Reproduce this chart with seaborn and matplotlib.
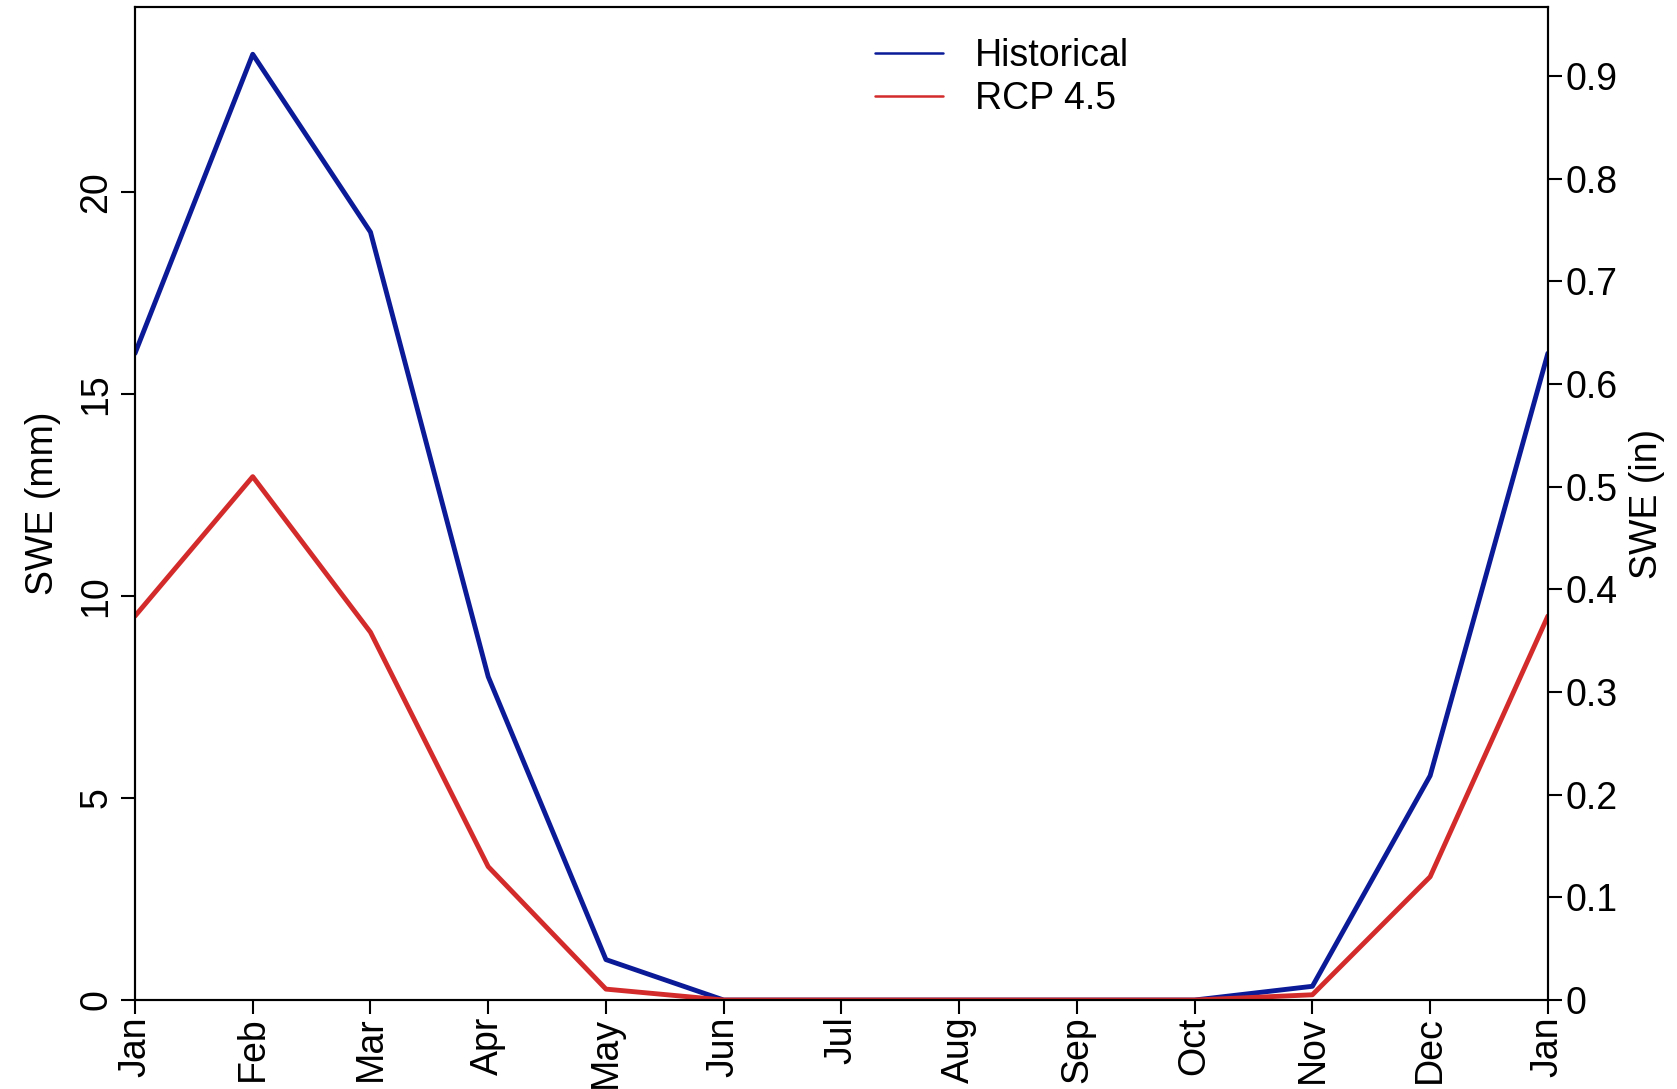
import pandas as pd
import matplotlib
matplotlib.use("Agg")
import matplotlib.pyplot as plt
import seaborn as sns

# monthly SWE climatology (mm), Jan repeated at the end
months = ["Jan", "Feb", "Mar", "Apr", "May", "Jun", "Jul",
          "Aug", "Sep", "Oct", "Nov", "Dec", "Jan"]
historical = [16.0, 23.4, 19.0, 8.0, 1.0, 0.0, 0.0, 0.0, 0.0, 0.0, 0.34, 5.55, 16.0]
rcp45 = [9.5, 12.95, 9.1, 3.3, 0.27, 0.0, 0.0, 0.0, 0.0, 0.0, 0.13, 3.05, 9.5]
series_names = ["Historical", "RCP 4.5"]
series_colors = ["#0b1a97", "#d32b2b"]

mm_ticks = [0, 5, 10, 15, 20]
in_ticks = [0.0, 0.1, 0.2, 0.3, 0.4, 0.5, 0.6, 0.7, 0.8, 0.9]
in_labels = ["0", "0.1", "0.2", "0.3", "0.4", "0.5", "0.6", "0.7", "0.8", "0.9"]

# long table for seaborn
df = pd.DataFrame({
    "pos": list(range(len(months))) * 2,
    "swe": historical + rcp45,
    "scenario": [series_names[0]] * len(months) + [series_names[1]] * len(months),
})

sns.set_style("ticks")
plt.rcParams['font.family'] = ['Liberation Sans', 'DejaVu Sans']
plt.rcParams['text.color'] = 'black'
plt.rcParams['axes.labelcolor'] = 'black'
plt.rcParams['xtick.color'] = 'black'
plt.rcParams['ytick.color'] = 'black'
plt.rcParams['axes.edgecolor'] = 'black'
plt.rcParams['axes.linewidth'] = 1.5

fs = 27

fig = plt.figure(figsize=(16.77, 10.89), dpi=100)
ax = fig.add_axes([0.0805, 0.0817, 0.8425, 0.9119])

sns.lineplot(data=df, x="pos", y="swe", hue="scenario",
             palette=dict(zip(series_names, series_colors)),
             linewidth=3.5, ax=ax)

ymax = max(historical) * 1.05
ax.set_xlim(0, len(months) - 1)
ax.set_ylim(0, ymax)

ax.set_xticks(range(len(months)))
ax.set_xticklabels(months, rotation=90, fontsize=fs)
ax.set_yticks(mm_ticks)
ax.set_yticklabels([str(t) for t in mm_ticks], rotation=90, va="center", fontsize=fs)
ax.tick_params(axis="both", length=10, width=1.5, pad=5, direction="out")
ax.tick_params(axis="x", pad=2)
ax.set_xlabel("")
ax.set_ylabel("SWE (mm)", fontsize=fs, labelpad=12)

for s in ax.spines.values():
    s.set_visible(True)
    s.set_linewidth(1.5)

# right axis in inches
ax2 = ax.twinx()
ax2.set_ylim(0, ymax / 25.4)
ax2.set_yticks(in_ticks)
ax2.set_yticklabels(in_labels, fontsize=fs)
ax2.tick_params(axis="y", length=10, width=1.5, pad=3, direction="out")
ax2.set_ylabel("SWE (in)", fontsize=fs, rotation=90, labelpad=8)
for s in ax2.spines.values():
    s.set_linewidth(1.5)

# legend, no frame, thin lines
handles, labels = ax.get_legend_handles_labels()
for h in handles:
    h.set_linewidth(1.8)
ax.legend(handles, labels, loc="upper left", bbox_to_anchor=(0.5, 1.003),
          frameon=False, fontsize=fs, handlelength=1.8, handletextpad=0.85,
          labelspacing=0.2)

fig.savefig("out.png", dpi=100)
